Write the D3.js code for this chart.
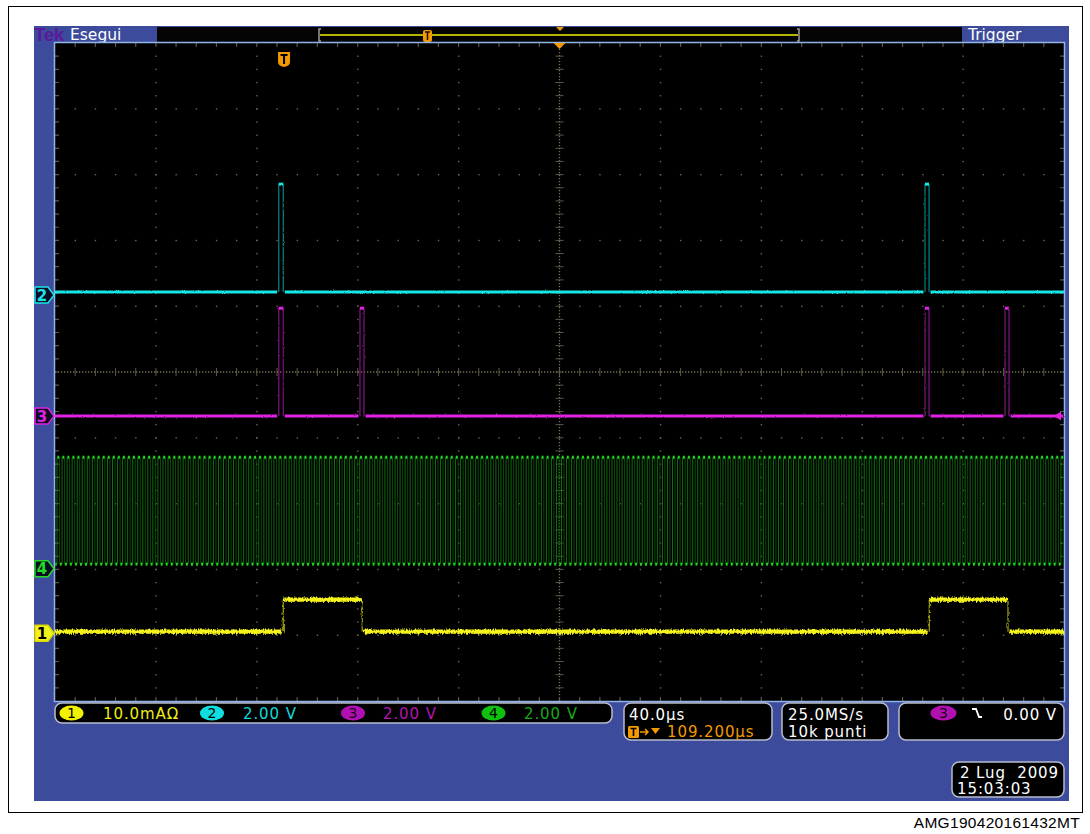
<!DOCTYPE html>
<html><head><meta charset="utf-8">
<script src="https://cdn.jsdelivr.net/npm/d3@7"></script>
<style>body{margin:0;background:#fff;} svg{display:block;}</style>
</head><body><svg id="c" width="1090" height="834"></svg>
<script>
// ---------------- data ----------------
const timePerDivUs = 40;
const triggerToCenterUs = 109.2;
const channelNames = ["1", "2", "3", "4"];
const channelScaleLabels = ["10.0mAΩ", "2.00 V", "2.00 V", "2.00 V"];
const channelUnitsPerDiv = [10, 2, 2, 2];
// ch1 (current, mA): high intervals in µs relative to trigger
const ch1HighIntervalsUs = [[-0.3, 31.0], [255.8, 287.0]];
const ch1LevelsMA = [0.23, 5.1];
// ch2 (V) pulses
const ch2PulsesUs = [[-2.1, -0.3], [254.1, 255.7]];
const ch2LevelsV = [0.09, 3.37];
// ch3 (V) pulses
const ch3PulsesUs = [[-2.1, -0.3], [30.1, 31.7], [254.1, 255.7], [285.8, 287.4]];
const ch3LevelsV = [0.0, 3.28];
// ch4 (V) clock
const ch4ClockPeriodUs = 2.0;
const ch4FirstRiseUs = -90.0;
const ch4LevelsV = [0.14, 3.39];
// status texts
const timebaseLabel = "40.0µs";
const positionLabel = "109.200µs";
const sampleLabels = ["25.0MS/s", "10k punti"];
const triggerLevelLabel = "0.00 V";
const dateLabels = ["2 Lug  2009", "15:03:03"];
const topLabels = ["Tek", "Esegui", "Trigger"];
const footerLabel = "AMG190420161432MT";

// ---------------- layout / style ----------------
const gx0 = 55, gx1 = 1064, gy0 = 43, gy1 = 701;
const groundDiv = [-3.97, 1.17, -0.67, -2.99];
const chBright = ["#f4f41c", "#18e6e6", "#e222e2", "#22dd22"];
const chDim = ["#9a9a10", "#0a7a7a", "#7a127a", "#0d6a0d"];
const chText = ["#eeee10", "#10d8d8", "#b414b4", "#18a818"];
const chBadge = ["#f2f200", "#10dede", "#b010b0", "#10c010"];
const FONT = "'DejaVu Sans', sans-serif";

const svg = d3.select("#c");
const defs = svg.append("defs");
const f = defs.append("filter").attr("id", "noisy").attr("filterUnits", "userSpaceOnUse")
  .attr("x", 0).attr("y", 0).attr("width", 1090).attr("height", 834);
f.append("feTurbulence").attr("type", "fractalNoise").attr("baseFrequency", "0.9 0.25")
  .attr("numOctaves", 2).attr("seed", 4).attr("result", "n");
f.append("feDisplacementMap").attr("in", "SourceGraphic").attr("in2", "n")
  .attr("scale", 4).attr("xChannelSelector", "R").attr("yChannelSelector", "G");
const f2 = defs.append("filter").attr("id", "noisy2").attr("filterUnits", "userSpaceOnUse")
  .attr("x", 0).attr("y", 0).attr("width", 1090).attr("height", 834);
f2.append("feTurbulence").attr("type", "fractalNoise").attr("baseFrequency", "0.9 0.4")
  .attr("numOctaves", 2).attr("seed", 9).attr("result", "n");
f2.append("feDisplacementMap").attr("in", "SourceGraphic").attr("in2", "n")
  .attr("scale", 2).attr("xChannelSelector", "R").attr("yChannelSelector", "G");

// outer frame + footer
svg.append("rect").attr("x", 8.5).attr("y", 6.5).attr("width", 1074).attr("height", 806)
  .attr("fill", "#fff").attr("stroke", "#000").attr("stroke-width", 1);
svg.append("text").attr("x", 1080).attr("y", 828).attr("text-anchor", "end")
  .attr("font-family", "'Liberation Sans', Arial, sans-serif").attr("font-size", 15.5)
  .attr("letter-spacing", 0.3).attr("fill", "#000").text(footerLabel);

// blue screen
svg.append("rect").attr("x", 34).attr("y", 26).attr("width", 1035).attr("height", 775).attr("fill", "#3c4b9b");

// top bar
svg.append("rect").attr("x", 157).attr("y", 27).attr("width", 805).attr("height", 15).attr("fill", "#040404");
svg.append("text").attr("x", 34).attr("y", 41).attr("font-family", "'Liberation Sans', Arial, sans-serif")
  .attr("font-weight", "bold").attr("font-size", 19).attr("letter-spacing", -0.5).attr("fill", "#5a1a9a").text(topLabels[0]);
svg.append("text").attr("x", 70).attr("y", 40).attr("font-family", FONT).attr("font-size", 15.5)
  .attr("fill", "#fff").text(topLabels[1]);
svg.append("text").attr("x", 968).attr("y", 40).attr("font-family", FONT).attr("font-size", 15.5)
  .attr("fill", "#fff").text(topLabels[2]);
// record view bracket
svg.append("line").attr("x1", 320).attr("x2", 798).attr("y1", 35).attr("y2", 35).attr("stroke", "#f0f000").attr("stroke-width", 1.5);
svg.append("path").attr("d", "M321,29 H319 V41 H321").attr("fill", "none").attr("stroke", "#9a9a9a").attr("stroke-width", 1.5);
svg.append("path").attr("d", "M797,29 H799 V41 H797").attr("fill", "none").attr("stroke", "#9a9a9a").attr("stroke-width", 1.5);
svg.append("rect").attr("x", 423).attr("y", 30).attr("width", 9).attr("height", 12).attr("rx", 2).attr("fill", "#f39a00");
svg.append("path").attr("d", "M425,32 H430 M427.5,32 V40").attr("stroke", "#201000").attr("stroke-width", 1.5);
svg.append("path").attr("d", "M556,27 H564 L560,31 Z").attr("fill", "#f39a00");

// graticule
svg.append("rect").attr("x", gx0).attr("y", gy0).attr("width", gx1 - gx0).attr("height", gy1 - gy0).attr("fill", "#000");
const x = d3.scaleLinear()
  .domain([triggerToCenterUs - 5 * timePerDivUs, triggerToCenterUs + 5 * timePerDivUs])
  .range([gx0, gx1]);
const yDiv = d3.scaleLinear().domain([-5, 5]).range([gy1, gy0]);
const xDiv = d3.scaleLinear().domain([-5, 5]).range([gx0, gx1]);
const grid = svg.append("g");
const dotCol = "#6a654e";
const minorX = d3.range(-5, 5.001, 0.2), minorY = d3.range(-5, 5.001, 0.2);
d3.range(-4, 5).filter(d => d !== 0).forEach(i => {
  grid.selectAll(null).data(minorY.slice(1, -1)).join("rect")
    .attr("x", xDiv(i) - 0.6).attr("y", d => yDiv(d) - 0.6).attr("width", 1.4).attr("height", 1.4).attr("fill", dotCol);
});
d3.range(-4, 5).filter(d => d !== 0).forEach(j => {
  grid.selectAll(null).data(minorX.slice(1, -1)).join("rect")
    .attr("x", d => xDiv(d) - 0.6).attr("y", yDiv(j) - 0.6).attr("width", 1.4).attr("height", 1.4).attr("fill", dotCol);
});
const cx = xDiv(0), cy = yDiv(0);
grid.append("line").attr("x1", cx).attr("x2", cx).attr("y1", gy0).attr("y2", gy1)
  .attr("stroke", "#757056").attr("stroke-width", 1.3).attr("stroke-dasharray", "1.3,1.7");
grid.append("line").attr("y1", cy).attr("y2", cy).attr("x1", gx0).attr("x2", gx1)
  .attr("stroke", "#757056").attr("stroke-width", 1.3).attr("stroke-dasharray", "1.3,1.7");
grid.selectAll(null).data(minorY.slice(1, -1)).join("line")
  .attr("x1", cx - 4).attr("x2", cx + 4).attr("y1", d => yDiv(d)).attr("y2", d => yDiv(d))
  .attr("stroke", "#5e5844").attr("stroke-width", 1);
grid.selectAll(null).data(minorX.slice(1, -1)).join("line")
  .attr("y1", cy - 4).attr("y2", cy + 4).attr("x1", d => xDiv(d)).attr("x2", d => xDiv(d))
  .attr("stroke", "#5e5844").attr("stroke-width", 1);
grid.selectAll(null).data(minorX.slice(1, -1)).join("path")
  .attr("d", d => `M${xDiv(d)},${gy0} v4 M${xDiv(d)},${gy1} v-4`)
  .attr("stroke", "#5e5844").attr("stroke-width", 1.2);
grid.selectAll(null).data(minorY.slice(1, -1)).join("path")
  .attr("d", d => `M${gx0},${yDiv(d)} h4 M${gx1},${yDiv(d)} h-4`)
  .attr("stroke", "#5e5844").attr("stroke-width", 1.2);
svg.append("rect").attr("x", gx0 - 0.5).attr("y", gy0 - 0.5).attr("width", gx1 - gx0 + 1).attr("height", gy1 - gy0 + 1)
  .attr("fill", "none").attr("stroke", "#8fb4e8").attr("stroke-width", 1.5);

// traces
function yCh(ch, v) { return yDiv(groundDiv[ch] + v / channelUnitsPerDiv[ch]); }
function stepTrace(intervals, lo, hi) {
  const [t0, t1] = x.domain();
  const hs = [], vs = [];
  let cur = t0, first = true;
  intervals.forEach(([a, b]) => {
    hs.push({ a: cur, b: a, v: lo, base: true, first });
    first = false;
    vs.push(a); hs.push({ a, b, v: hi, base: false }); vs.push(b);
    cur = b;
  });
  hs.push({ a: cur, b: t1, v: lo, base: true, last: true });
  return { hs, vs };
}
function drawStep(ch, intervals, levels, width, filter) {
  const g = svg.append("g");
  if (filter) g.attr("filter", `url(#${filter})`);
  const { hs, vs } = stepTrace(intervals, levels[0], levels[1]);
  g.selectAll(null).data(vs).join("line")
    .attr("x1", d => x(d)).attr("x2", d => x(d))
    .attr("y1", yCh(ch, levels[0])).attr("y2", yCh(ch, levels[1]))
    .attr("stroke", chDim[ch]).attr("stroke-width", 1.3);
  g.selectAll(null).data(hs).join("line")
    .attr("x1", d => x(d.a) + (d.base && !d.first ? 1.5 : 0))
    .attr("x2", d => x(d.b) - (d.base && !d.last ? 1.5 : 0))
    .attr("y1", d => yCh(ch, d.v)).attr("y2", d => yCh(ch, d.v))
    .attr("stroke", chBright[ch]).attr("stroke-width", width);
}
// ch4 clock
(function () {
  const ch = 3;
  const [t0, t1] = x.domain();
  const edges = d3.range(ch4FirstRiseUs, t1, ch4ClockPeriodUs / 2);
  const g = svg.append("g");
  const yl = yCh(ch, ch4LevelsV[0]), yh = yCh(ch, ch4LevelsV[1]);
  g.selectAll(null).data(edges).join("line")
    .attr("x1", d => x(d)).attr("x2", d => x(d)).attr("y1", yl).attr("y2", yh)
    .attr("stroke", (d, i) => i % 2 ? "#094c09" : "#0f700f").attr("stroke-width", 1);
  const segs = edges.map((e, i) => ({ a: e, b: Math.min(e + ch4ClockPeriodUs / 2, t1), hi: i % 2 === 0 }));
  segs.unshift({ a: t0, b: edges[0], hi: false });
  g.selectAll(null).data(segs).join("line")
    .attr("x1", d => x(d.a) + 0.3).attr("x2", d => x(d.b) - 0.3)
    .attr("y1", d => d.hi ? yh : yl).attr("y2", d => d.hi ? yh : yl)
    .attr("stroke", "#22d822").attr("stroke-width", 3);
})();
drawStep(2, ch3PulsesUs, ch3LevelsV, 3, "noisy2");
drawStep(1, ch2PulsesUs, ch2LevelsV, 3, "noisy2");
drawStep(0, ch1HighIntervalsUs, ch1LevelsMA, 4.2, "noisy");

// trigger markers in graticule
svg.append("path").attr("d", `M${cx - 6},${gy0} H${cx + 6} L${cx},${gy0 + 6} Z`).attr("fill", "#f39a00");
const tx = x(0);
svg.append("path").attr("d", `M${tx - 6},52 H${tx + 6} V62 Q${tx + 6},66 ${tx},67 Q${tx - 6},66 ${tx - 6},62 Z`).attr("fill", "#f39a00");
svg.append("path").attr("d", `M${tx - 3.5},55 H${tx + 3.5} M${tx},55 V64`).attr("stroke", "#000").attr("stroke-width", 2);
const ty = yCh(2, 0);
svg.append("path").attr("d", `M${gx1 - 10},${ty} L${gx1 - 3},${ty - 4.5} V${ty + 4.5} Z`).attr("fill", chBright[2]);

// left channel markers
channelNames.forEach((name, i) => {
  const y = yDiv(groundDiv[i]);
  const filled = i === 0;
  svg.append("path").attr("d", `M35,${y - 8} H48 L54,${y} L48,${y + 8} H35 Z`)
    .attr("fill", filled ? chBright[0] : "#0c0c24").attr("stroke", filled ? "#d8d800" : chBright[i]).attr("stroke-width", 1.5);
  svg.append("text").attr("x", 42).attr("y", y + 5.5).attr("text-anchor", "middle")
    .attr("font-family", FONT).attr("font-weight", "bold").attr("font-size", 15)
    .attr("fill", filled ? "#000" : chBright[i]).text(name);
});

// status bar
function box(x0, y0, w, h) {
  svg.append("rect").attr("x", x0).attr("y", y0).attr("width", w).attr("height", h).attr("rx", 7)
    .attr("fill", "#000").attr("stroke", "#b8bccc").attr("stroke-width", 1.5);
}
function badge(cxp, cyp, i, rx) {
  svg.append("ellipse").attr("cx", cxp).attr("cy", cyp).attr("rx", rx).attr("ry", 7.5).attr("fill", chBadge[i]);
  svg.append("text").attr("x", cxp).attr("y", cyp + 5).attr("text-anchor", "middle")
    .attr("font-family", FONT).attr("font-size", 14).attr("fill", i === 2 ? "#1a001a" : "#000").text(channelNames[i]);
}
function label(x0, y0, txt, col, anchor) {
  svg.append("text").attr("x", x0).attr("y", y0).attr("font-family", FONT).attr("font-size", 15)
    .attr("letter-spacing", 0.9).attr("fill", col).attr("text-anchor", anchor || "start")
    .style("white-space", "pre").text(txt);
}
box(55, 703, 557, 20);
const badgeX = [71.5, 212, 353, 493.5], textX = [103, 243, 383, 524];
channelNames.forEach((n, i) => {
  badge(badgeX[i], 713, i, 12);
  label(textX[i], 719, channelScaleLabels[i], chText[i]);
});
box(624, 703, 148, 37);
label(629, 720, timebaseLabel, "#fff");
svg.append("rect").attr("x", 628).attr("y", 726).attr("width", 11).attr("height", 12).attr("rx", 1.5).attr("fill", "#f39a00");
svg.append("path").attr("d", "M630.5,728.5 H636.5 M633.5,728.5 V736").attr("stroke", "#000").attr("stroke-width", 1.6);
svg.append("path").attr("d", "M640,732 H648 M645,729 L648,732 L645,735").attr("fill", "none").attr("stroke", "#f39a00").attr("stroke-width", 1.5);
svg.append("path").attr("d", "M651,728 H660 L655.5,734 Z").attr("fill", "#f39a00");
label(667, 737, positionLabel, "#f39a00");
box(782, 703, 106, 37);
label(788, 720, sampleLabels[0], "#fff");
label(788, 737, sampleLabels[1], "#fff");
box(899, 703, 165, 37);
badge(943.5, 713, 2, 13);
svg.append("path").attr("d", "M972,709 H976 L979,717 H982").attr("fill", "none").attr("stroke", "#fff").attr("stroke-width", 1.8);
label(1057, 720, triggerLevelLabel, "#fff", "end");
box(952, 762, 112, 35);
label(1059, 778, dateLabels[0], "#fff", "end");
label(957, 794, dateLabels[1], "#fff");
</script></body></html>
